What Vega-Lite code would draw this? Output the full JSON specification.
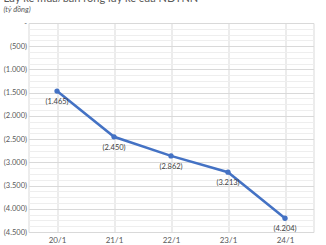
{
  "$schema": "https://vega.github.io/schema/vega-lite/v6.json",
  "width": 285,
  "height": 209,
  "autosize": {"type": "none"},
  "padding": {"left": 28.5, "top": 23, "right": 12.5, "bottom": 13},
  "background": "white",
  "config": {
    "view": {"stroke": "#d9d9d9", "strokeWidth": 1},
    "font": "Lato"
  },
  "title": {
    "text": "Lũy kế mua/bán ròng lũy kế của NĐTNN",
    "subtitle": "(tỷ đồng)",
    "anchor": "start",
    "frame": "group",
    "dx": -25,
    "offset": 6,
    "fontSize": 11,
    "fontWeight": "normal",
    "color": "#595959",
    "subtitleFontSize": 7.5,
    "subtitleFontStyle": "italic",
    "subtitleColor": "#595959",
    "subtitlePadding": 2
  },
  "data": {
    "values": [
      {"date": "20/1", "value": -1465},
      {"date": "21/1", "value": -2450},
      {"date": "22/1", "value": -2862},
      {"date": "23/1", "value": -3213},
      {"date": "24/1", "value": -4204}
    ]
  },
  "resolve": {"axis": {"y": "independent"}},
  "encoding": {
    "x": {
      "field": "date",
      "type": "ordinal",
      "sort": null,
      "scale": {"paddingInner": 0, "paddingOuter": 0},
      "axis": {
        "title": null,
        "labelAngle": 0,
        "bandPosition": 0,
        "labelBound": false,
        "grid": true,
        "gridColor": "#d9d9d9",
        "domain": false,
        "ticks": false,
        "labelPadding": 4,
        "labelFontSize": 8,
        "labelColor": "#595959",
        "labelFont": "Lato"
      }
    },
    "y": {
      "field": "value",
      "type": "quantitative",
      "scale": {"domain": [-4500, 0], "nice": false, "zero": false},
      "axis": null
    }
  },
  "layer": [
    {
      "mark": {"type": "point", "opacity": 0},
      "encoding": {
        "y": {
          "field": "value",
          "type": "quantitative",
          "axis": {
            "orient": "left",
            "title": null,
            "values": [-125, -250, -375, -625, -750, -875, -1125, -1250, -1375, -1625, -1750, -1875, -2125, -2250, -2375, -2625, -2750, -2875, -3125, -3250, -3375, -3625, -3750, -3875, -4125, -4250, -4375],
            "grid": true,
            "gridColor": "#eeeeee",
            "labels": false,
            "ticks": false,
            "domain": false
          }
        }
      }
    },
    {
      "mark": {"type": "point", "opacity": 0},
      "encoding": {
        "y": {
          "field": "value",
          "type": "quantitative",
          "axis": {
            "orient": "left",
            "title": null,
            "values": [0, -500, -1000, -1500, -2000, -2500, -3000, -3500, -4000, -4500],
            "grid": true,
            "gridColor": "#d9d9d9",
            "ticks": false,
            "domain": false,
            "labelPadding": 2,
            "labelFontSize": 7.5,
            "labelColor": "#595959",
            "labelExpr": "datum.value == 0 ? '-      ' : '(' + replace(format(-datum.value, ','), ',', '.') + ')'"
          }
        }
      }
    },
    {
      "mark": {"type": "line", "color": "#4472C4", "strokeWidth": 2.5}
    },
    {
      "mark": {"type": "point", "filled": true, "color": "#4472C4", "size": 28, "opacity": 1}
    },
    {
      "mark": {"type": "text", "dy": 11, "fontSize": 7.5, "color": "#404040"},
      "encoding": {
        "text": {"field": "label"}
      },
      "transform": [
        {"calculate": "'(' + replace(format(-datum.value, ','), ',', '.') + ')'", "as": "label"}
      ]
    }
  ]
}
